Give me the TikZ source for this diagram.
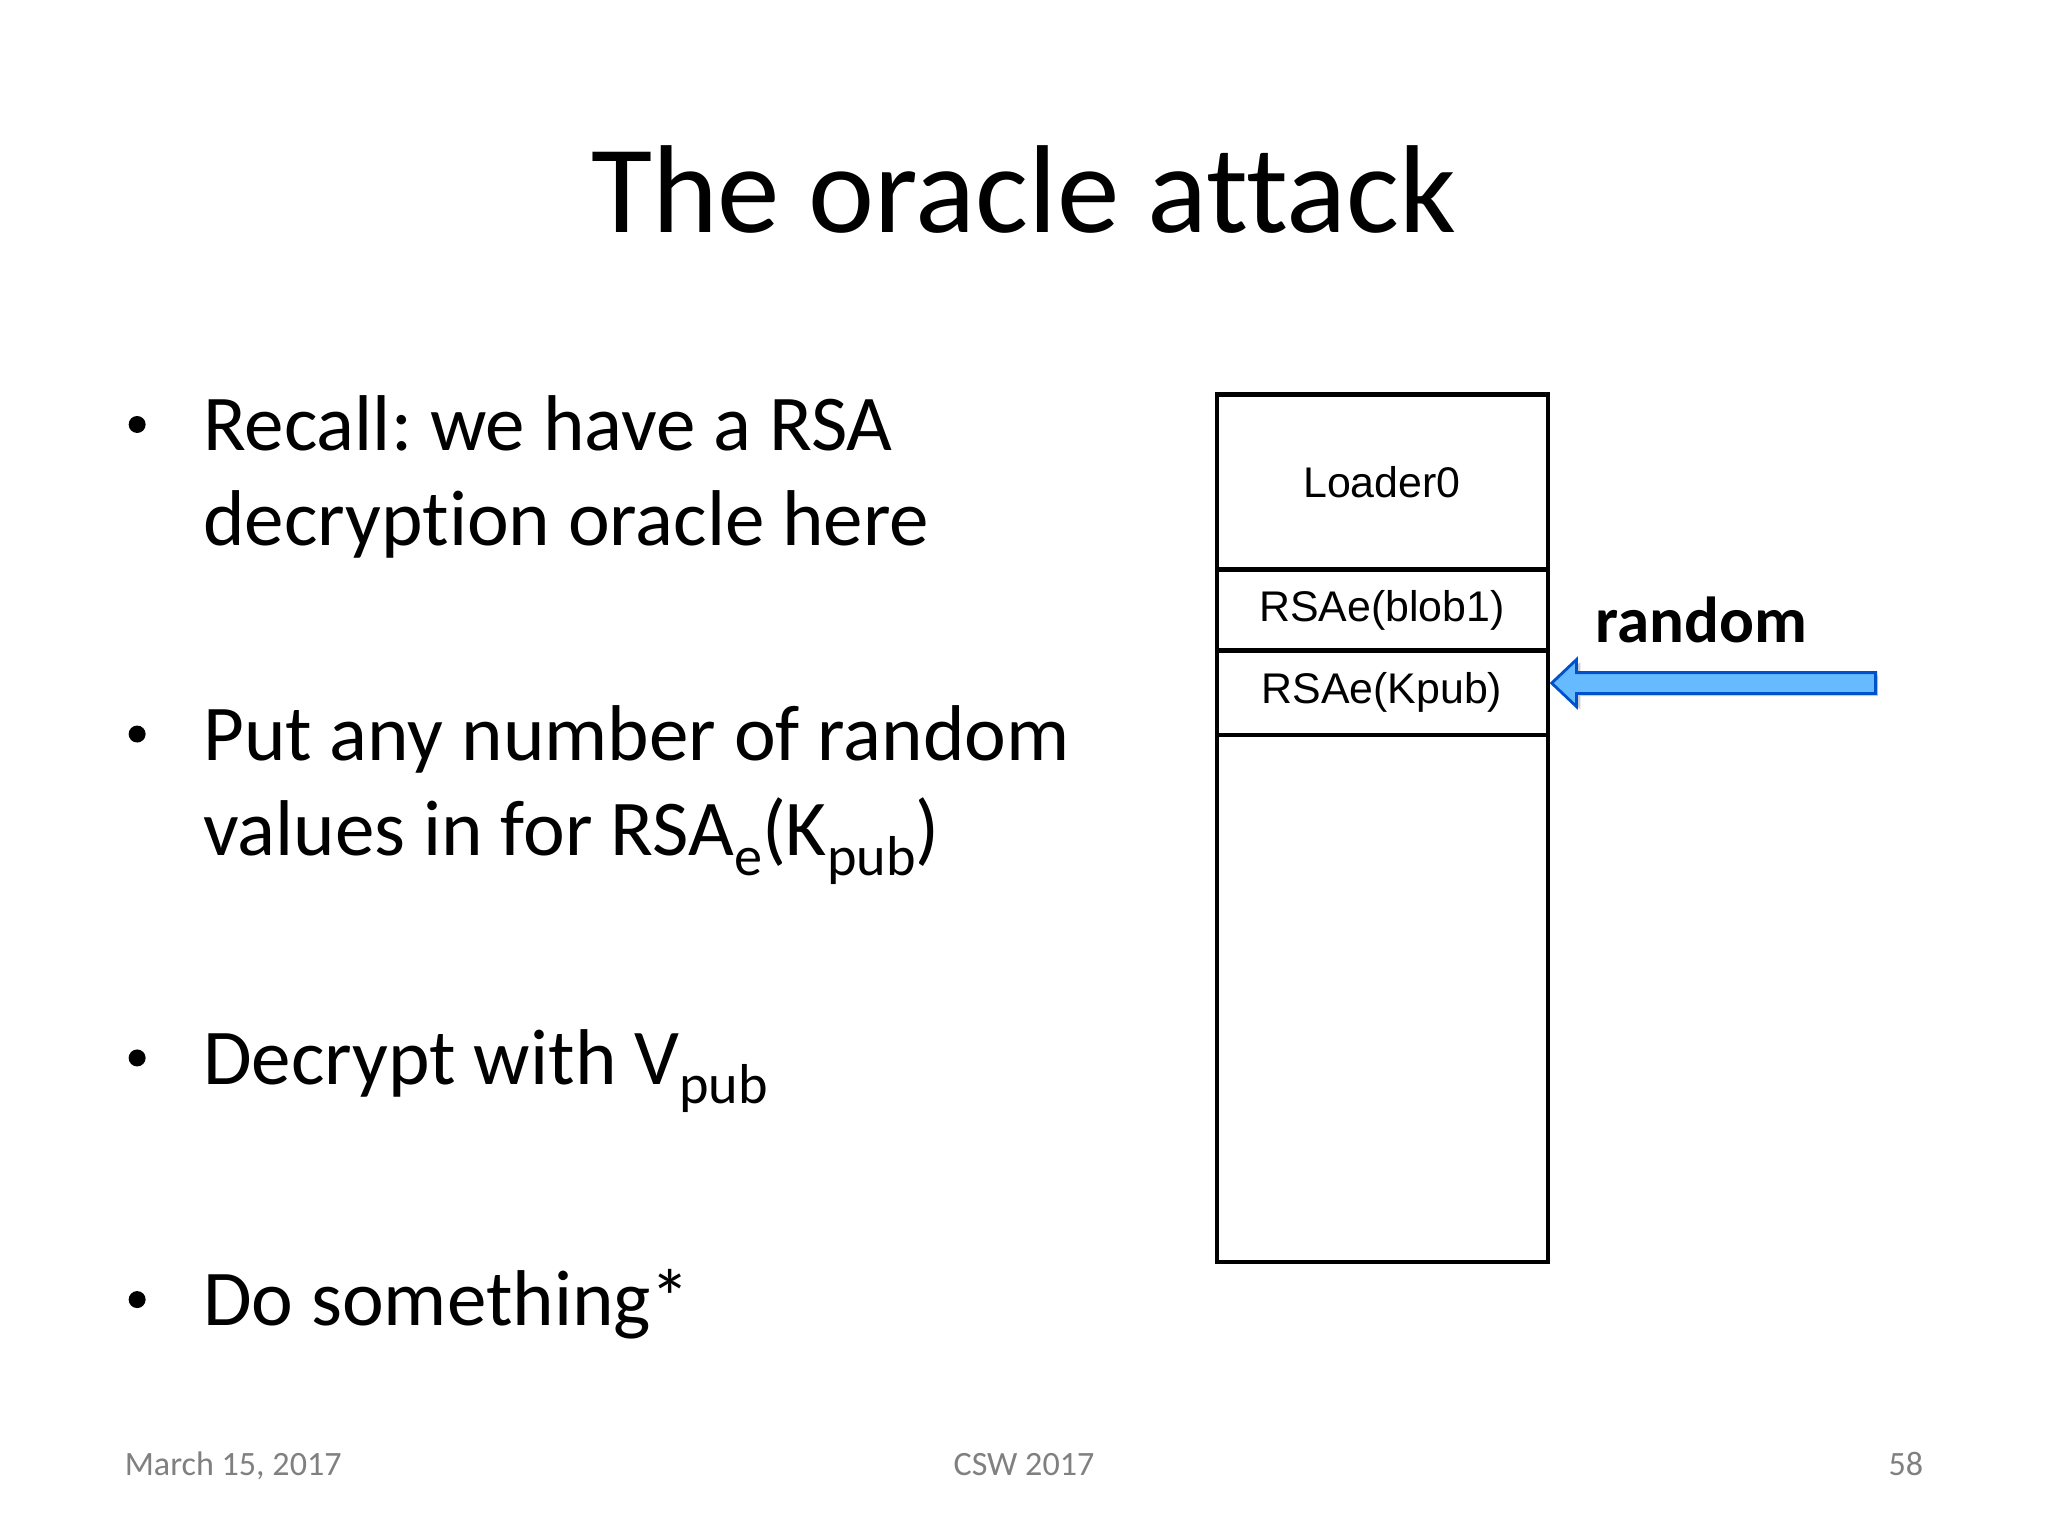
\documentclass[tikz,border=0pt]{standalone}
\usepackage{fontspec}
\setmainfont[Ligatures={NoCommon}]{Carlito}
\newfontfamily\helv{Liberation Sans}
\newcommand{\mysub}[1]{\raisebox{-0.25em}{\fontsize{16}{18}\selectfont #1}}
\begin{document}
\frenchspacing
\begin{tikzpicture}[x=0.01306cm,y=-0.01306cm]
\useasboundingbox (0,0) rectangle (1568,1176);
\tikzset{bul/.style={anchor=base west,inner sep=0pt,font=\fontsize{22.5}{27}\selectfont},
 foot/.style={anchor=base,inner sep=0pt,text=black!50,font=\fontsize{9.7}{12}\selectfont},
 cell/.style={font=\helv\fontsize{12.2}{14}\selectfont}}
\node[anchor=base,inner sep=0pt,font=\fontsize{35.6}{40}\selectfont] (title) at (784,178) {The oracle attack};
\foreach \y/\t [count=\i] in {345/{Recall: we have a RSA},418/{decryption oracle here},582/{Put any number of random},655/{values in for RSA\mysub{e}(K\mysub{pub})},830/{Decrypt with V\mysub{pub}},1015/{Do something*}}
  \node[bul] (t\i) at (155,\y) {\t};
\foreach \y/\n in {345/a,582/b,830/c,1015/d}
  \fill (105,\y-20) circle (6.5);
\draw[line width=1.2pt] (932,302) rectangle (1185,966);
\foreach \y in {436,498,563} \draw[line width=1.2pt] (932,\y) -- (1185,\y);
\node[cell] (c1) at (1058,369) {Loader0};
\node[cell] (c2) at (1058,467) {RSAe(blob1)};
\node[cell] (c3) at (1058,530) {RSAe(Kpub)};
\node[anchor=base west,inner sep=0pt,font=\bfseries\fontsize{18.5}{22}\selectfont] (r) at (1221,492) {random};
\fill[black!20] (1438,517) -- (1210,517) -- (1210,507) -- (1190,525) -- (1210,543) -- (1210,533) -- (1438,533) -- cycle;
\draw[fill=blue!45!cyan!60!white,draw=blue!60!cyan!80!black,line width=0.8pt] (1436,515) -- (1207,515) -- (1207,505) -- (1188,523) -- (1207,541) -- (1207,531) -- (1436,531) -- cycle;
\node[foot,anchor=base west] (f1) at (95,1130) {March 15, 2017};
\node[foot] (f2) at (784,1130) {CSW 2017};
\node[foot,anchor=base east] (f3) at (1473,1130) {58};
\end{tikzpicture}
\end{document}
